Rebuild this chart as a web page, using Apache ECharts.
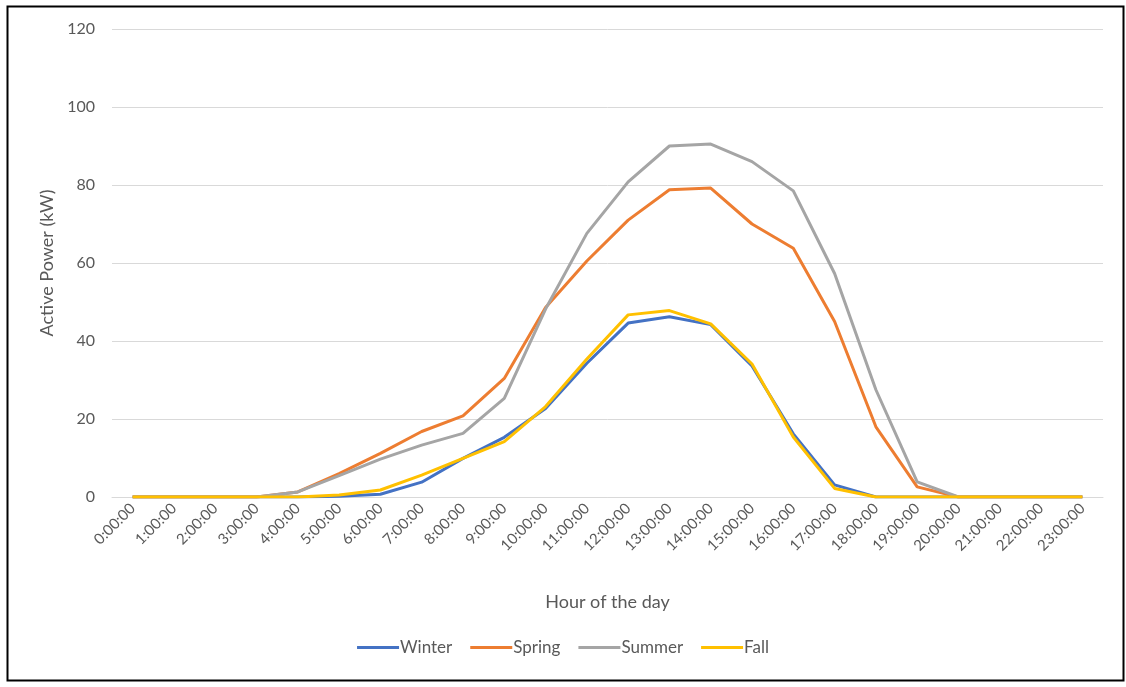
<!DOCTYPE html>
<html><head><meta charset="utf-8">
<script src="https://cdn.jsdelivr.net/npm/echarts@6/dist/echarts.min.js"></script>
<style>html,body{margin:0;padding:0;background:#fff}#c{width:1126px;height:687px}</style>
</head><body><div id="c"></div>
<script>
const hours = ["0:00:00","1:00:00","2:00:00","3:00:00","4:00:00","5:00:00","6:00:00","7:00:00","8:00:00","9:00:00","10:00:00","11:00:00","12:00:00","13:00:00","14:00:00","15:00:00","16:00:00","17:00:00","18:00:00","19:00:00","20:00:00","21:00:00","22:00:00","23:00:00"];
const winter = [0,0,0,0,0,0.2,0.7,3.8,9.9,15.3,22.7,34.3,44.6,46.2,44.2,33.6,16.2,3.1,0,0,0,0,0,0];
const spring = [0,0,0,0,1.3,6.0,11.2,16.8,20.8,30.4,48.6,60.5,71.0,78.8,79.2,70.0,63.8,45.0,18.0,2.6,0,0,0,0];
const summer = [0,0,0,0,1.3,5.5,9.7,13.3,16.3,25.3,48.2,67.6,80.8,90.0,90.5,86.0,78.5,57.3,27.5,3.9,0,0,0,0];
const fall = [0,0,0,0,0,0.5,1.8,5.6,9.9,14.2,23.2,35.4,46.7,47.8,44.4,34.1,15.4,2.2,0,0,0,0,0,0];
const yTicks = [0,20,40,60,80,100,120];

const chart = echarts.init(document.getElementById('c'));
const txt = '#595959';
const ff = 'Lato, Open Sans, sans-serif';
const mk = (name, data, color) => ({
  name, type: 'line', data, symbol: 'none', smooth: false,
  lineStyle: {color, width: 3}, itemStyle: {color}
});
chart.setOption({
  animation: false,
  backgroundColor: '#fff',
  grid: {left: 112, right: 23, top: 29, bottom: 190},
  legend: {
    bottom: 26, left: 'center', itemWidth: 42, itemHeight: 3, itemGap: 18,
    icon: 'rect',
    textStyle: {color: txt, fontFamily: ff, fontSize: 17, padding: [0,0,0,-4]},
    data: ['Winter','Spring','Summer','Fall']
  },
  xAxis: {
    type: 'category', data: hours, boundaryGap: true,
    name: 'Hour of the day', nameLocation: 'middle', nameGap: 96,
    nameTextStyle: {color: txt, fontSize: 18, fontFamily: ff},
    axisLine: {lineStyle: {color: '#d9d9d9', width: 1}},
    axisTick: {show: false},
    axisLabel: {rotate: 45, color: txt, fontSize: 15, interval: 0, margin: 9, fontFamily: ff}
  },
  yAxis: {
    type: 'value', min: yTicks[0], max: yTicks[yTicks.length-1], interval: 20,
    name: 'Active Power (kW)', nameLocation: 'middle', nameGap: 56,
    nameTextStyle: {color: txt, fontSize: 18, fontFamily: ff},
    axisLine: {show: false}, axisTick: {show: false},
    axisLabel: {color: txt, fontSize: 16, margin: 17, fontFamily: ff},
    splitLine: {lineStyle: {color: '#d9d9d9', width: 1}}
  },
  graphic: [{
    type: 'rect', left: 5, top: 4, z: 100,
    shape: {width: 1116, height: 674},
    style: {fill: 'none', stroke: '#000', lineWidth: 2}
  }],
  series: [
    mk('Winter', winter, '#4472C4'),
    mk('Spring', spring, '#ED7D31'),
    mk('Summer', summer, '#A5A5A5'),
    mk('Fall', fall, '#FFC000')
  ]
});
</script></body></html>
